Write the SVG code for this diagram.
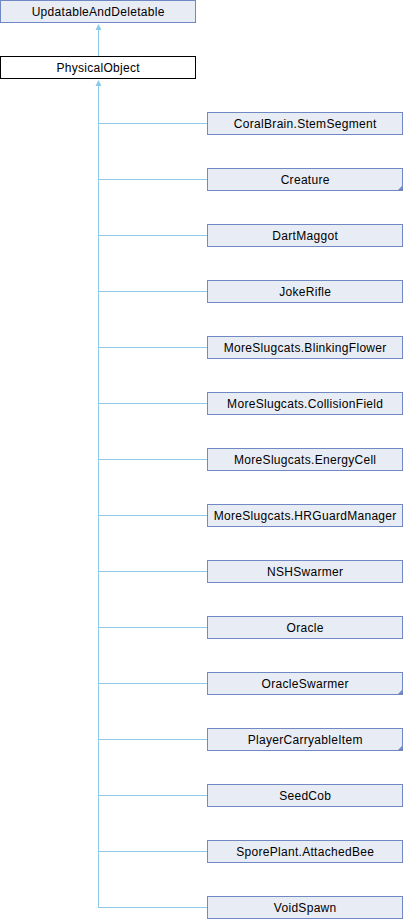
<svg xmlns="http://www.w3.org/2000/svg" width="404" height="920" viewBox="0 0 404 920">
<style>
.n rect{fill:#e8ecf5;stroke:#7088c4;stroke-width:1}
.n.cur rect{fill:#ffffff;stroke:#000000}
.n text{font-family:"Liberation Sans",Arial,sans-serif;font-size:12px;letter-spacing:0.3px;fill:#000;text-anchor:middle}
.c{stroke:#8cc8e8;stroke-width:1;fill:none}
.tri{fill:#7088c4}
.ah{fill:#8cc8e8}
</style>
<g id="connectors">
<path class="c" d="M98.5,56 V26"/>
<path class="ah" d="M98.5,24 L95.5,30 L101.5,30 Z"/>
<path class="c" d="M98.5,907.5 V82"/>
<path class="ah" d="M98.5,80 L95.5,86 L101.5,86 Z"/>
<path class="c" d="M98,123.5H207 M98,179.5H207 M98,235.5H207 M98,291.5H207 M98,347.5H207 M98,403.5H207 M98,459.5H207 M98,515.5H207 M98,571.5H207 M98,627.5H207 M98,683.5H207 M98,739.5H207 M98,795.5H207 M98,851.5H207 M98,907.5H207"/>
</g>
<g id="UpdatableAndDeletable" class="n"><rect x="0.5" y="0.5" width="195" height="22"/><text x="98.2" y="15.5">UpdatableAndDeletable</text></g>
<g id="PhysicalObject" class="n cur"><rect x="0.5" y="56.5" width="195" height="22"/><text x="98.2" y="71.5">PhysicalObject</text></g>
<g id="CoralBrainStemSegment" class="n"><rect x="207.5" y="112.5" width="195" height="22"/><text x="305.2" y="127.5">CoralBrain.StemSegment</text></g>
<g id="Creature" class="n"><rect x="207.5" y="168.5" width="195" height="22"/><path class="tri" d="M403,185 L403,191 L397,191 Z"/><text x="305.2" y="183.5">Creature</text></g>
<g id="DartMaggot" class="n"><rect x="207.5" y="224.5" width="195" height="22"/><text x="305.2" y="239.5">DartMaggot</text></g>
<g id="JokeRifle" class="n"><rect x="207.5" y="280.5" width="195" height="22"/><text x="305.2" y="295.5">JokeRifle</text></g>
<g id="BlinkingFlower" class="n"><rect x="207.5" y="336.5" width="195" height="22"/><text x="305.2" y="351.5">MoreSlugcats.BlinkingFlower</text></g>
<g id="CollisionField" class="n"><rect x="207.5" y="392.5" width="195" height="22"/><text x="305.2" y="407.5">MoreSlugcats.CollisionField</text></g>
<g id="EnergyCell" class="n"><rect x="207.5" y="448.5" width="195" height="22"/><text x="305.2" y="463.5">MoreSlugcats.EnergyCell</text></g>
<g id="HRGuardManager" class="n"><rect x="207.5" y="504.5" width="195" height="22"/><text x="305.2" y="519.5">MoreSlugcats.HRGuardManager</text></g>
<g id="NSHSwarmer" class="n"><rect x="207.5" y="560.5" width="195" height="22"/><text x="305.2" y="575.5">NSHSwarmer</text></g>
<g id="Oracle" class="n"><rect x="207.5" y="616.5" width="195" height="22"/><text x="305.2" y="631.5">Oracle</text></g>
<g id="OracleSwarmer" class="n"><rect x="207.5" y="672.5" width="195" height="22"/><path class="tri" d="M403,689 L403,695 L397,695 Z"/><text x="305.2" y="687.5">OracleSwarmer</text></g>
<g id="PlayerCarryableItem" class="n"><rect x="207.5" y="728.5" width="195" height="22"/><path class="tri" d="M403,745 L403,751 L397,751 Z"/><text x="305.2" y="743.5">PlayerCarryableItem</text></g>
<g id="SeedCob" class="n"><rect x="207.5" y="784.5" width="195" height="22"/><text x="305.2" y="799.5">SeedCob</text></g>
<g id="AttachedBee" class="n"><rect x="207.5" y="840.5" width="195" height="22"/><text x="305.2" y="855.5">SporePlant.AttachedBee</text></g>
<g id="VoidSpawn" class="n"><rect x="207.5" y="896.5" width="195" height="22"/><text x="305.2" y="911.5">VoidSpawn</text></g>
</svg>
